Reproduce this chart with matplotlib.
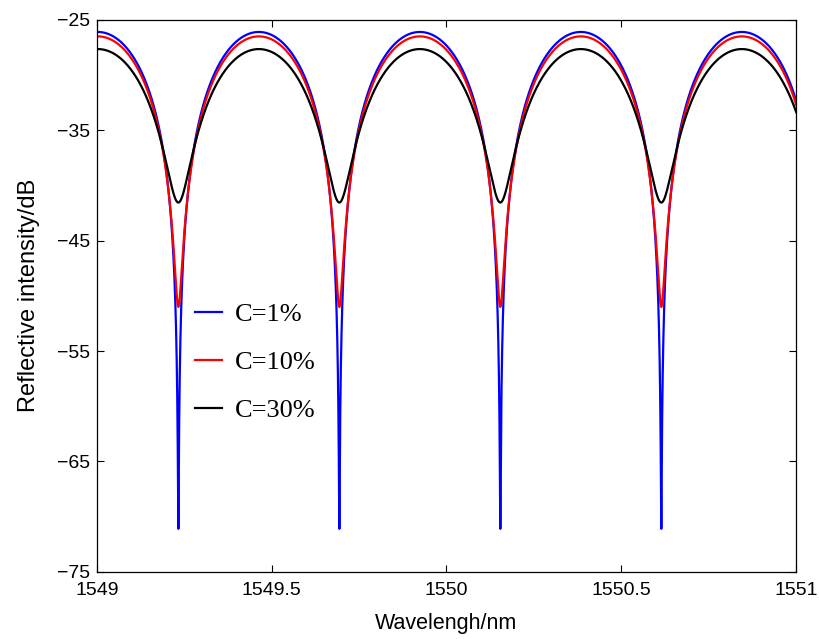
import numpy as np
import matplotlib.pyplot as plt
from matplotlib.ticker import FormatStrFormatter

# values
dip_wl = [1549.234, 1549.693, 1550.153, 1550.615]   # nm, blue dips
labels = ['C=1%', 'C=10%', 'C=30%']
colors = ['#0000ff', '#ff0000', '#000000']
peak_db = [-26.1, -26.5, -27.65]
dip_db = [-71.1, -51.0, -41.55]

# dip spacing (FSR) and first dip from the dip positions
fsr, wl0 = np.polyfit(np.arange(len(dip_wl)), dip_wl, 1)

wl = np.linspace(1549, 1551, 40001)
phase = np.pi + 2 * np.pi * (wl - wl0) / fsr

fig = plt.figure(figsize=(8.2, 6.39), dpi=100)
ax = fig.add_axes([0.118, 0.105, 0.853, 0.864])

for lab, c, pk, dp in zip(labels, colors, peak_db, dip_db):
    a = np.sqrt(10 ** (pk / 10))
    b = np.sqrt(10 ** (dp / 10))
    r1 = (a + b) / 2
    r2 = (a - b) / 2
    refl = r1 ** 2 + r2 ** 2 + 2 * r1 * r2 * np.cos(phase)
    ax.plot(wl, 10 * np.log10(refl), color=c, lw=1.6, label=lab)

ax.set_xlim(1549, 1551)
ax.set_ylim(-75, -25)
ax.set_xticks(np.arange(1549, 1551.01, 0.5))
ax.set_yticks(np.arange(-75, -24, 10))
ax.xaxis.set_major_formatter(FormatStrFormatter('%g'))
ax.tick_params(direction='in', top=True, right=True, length=5, width=0.8,
               labelsize=14)
ax.tick_params(axis='x', pad=7.5)
ax.tick_params(axis='y', pad=5)
for lbl in ax.get_xticklabels() + ax.get_yticklabels():
    lbl.set_family('Liberation Sans')
for s in ax.spines.values():
    s.set_linewidth(0.9)

ax.set_xlabel('Wavelengh/nm', family='Liberation Sans', fontsize=15.5, labelpad=10)
ax.set_ylabel('Reflective intensity/dB', family='Liberation Sans', fontsize=17, labelpad=12)

ax.legend(loc='center left', bbox_to_anchor=(0.14, 0.38), frameon=False,
          prop={'family': 'Liberation Serif', 'size': 19},
          handlelength=1.02, handletextpad=0.5, labelspacing=0.93,
          borderpad=0, borderaxespad=0)

fig.savefig('out.png', dpi=100)
